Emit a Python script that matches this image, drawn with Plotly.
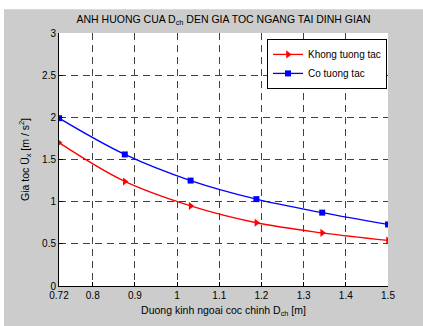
import plotly.graph_objects as go

x_vals = [0.72, 0.876, 1.032, 1.188, 1.344, 1.5]
khong_tuong_tac = [1.70, 1.24, 0.95, 0.75, 0.63, 0.54]
co_tuong_tac = [1.99, 1.56, 1.25, 1.03, 0.87, 0.73]
x_ticks = [0.72, 0.8, 0.9, 1.0, 1.1, 1.2, 1.3, 1.4, 1.5]
x_tick_text = ["0.72", "0.8", "0.9", "1", "1.1", "1.2", "1.3", "1.4", "1.5"]
y_ticks = [0, 0.5, 1, 1.5, 2, 2.5, 3]
y_tick_text = ["0", "0.5", "1", "1.5", "2", "2.5", "3"]

FONT = "Liberation Sans, Arial, sans-serif"

fig = go.Figure()
fig.add_trace(go.Scatter(
    x=x_vals, y=khong_tuong_tac, name="Khong tuong tac",
    mode="lines+markers", line=dict(color="#ff0000", width=1.3, shape="spline"),
    marker=dict(symbol="triangle-right", size=7, color="#ff0000"),
))
fig.add_trace(go.Scatter(
    x=x_vals, y=co_tuong_tac, name="Co tuong tac",
    mode="lines+markers", line=dict(color="#0000ff", width=1.3, shape="spline"),
    marker=dict(symbol="square", size=6, color="#0000ff"),
))

W, H = 423, 326
L, R, T, B = 59, 388, 33, 290
pw, ph = R - L, B - T

def px_x(p):
    return (p - L) / pw

def px_y(p):
    return (B - p) / ph

fig.add_shape(type="rect", xref="paper", yref="paper",
              x0=px_x(-5), x1=px_x(W + 5), y0=px_y(9), y1=px_y(-5),
              fillcolor="white", line=dict(width=0), layer="below")
fig.add_shape(type="rect", xref="paper", yref="paper",
              x0=px_x(-5), x1=px_x(4), y0=px_y(H + 5), y1=px_y(-5),
              fillcolor="white", line=dict(width=0), layer="below")

fig.update_layout(
    width=W, height=H,
    margin=dict(l=L, r=W - R, t=T, b=H - B, pad=0),
    paper_bgcolor="#cccccc", plot_bgcolor="white",
    font=dict(family=FONT, size=10, color="black"),
    title=dict(text="ANH HUONG CUA D<sub>ch</sub> DEN GIA TOC NGANG TAI DINH GIAN",
               x=(L + R) / 2 / W, xanchor="center", y=1 - 19 / H, yanchor="middle",
               font=dict(size=10.5, family=FONT)),
    showlegend=True,
    legend=dict(x=px_x(267), y=px_y(39), xanchor="left", yanchor="top",
                bgcolor="white", bordercolor="black", borderwidth=1,
                font=dict(size=10, family=FONT), tracegroupgap=0,
                itemwidth=30),
    xaxis=dict(range=[0.72, 1.5], tickvals=x_ticks, ticktext=x_tick_text,
               showgrid=True, gridcolor="#404040", griddash="7px,5px", gridwidth=1,
               zeroline=False, showline=True, linecolor="black", linewidth=1,
               ticks="inside", ticklen=4, tickcolor="black",
               title=dict(text="Duong kinh ngoai coc chinh D<sub>ch</sub> [m]", standoff=6,
                          font=dict(size=10.5))),
    yaxis=dict(range=[0, 3], tickvals=y_ticks, ticktext=y_tick_text,
               showgrid=True, gridcolor="#404040", griddash="7px,5px", gridwidth=1,
               zeroline=False, showline=True, linecolor="black", linewidth=1,
               ticks="inside", ticklen=4, tickcolor="black",
               title=dict(text="Gia toc Ü<sub>x</sub> [m / s<sup>2</sup>]", standoff=10,
                          font=dict(size=10.5))),
)

fig.write_html("out.html")
